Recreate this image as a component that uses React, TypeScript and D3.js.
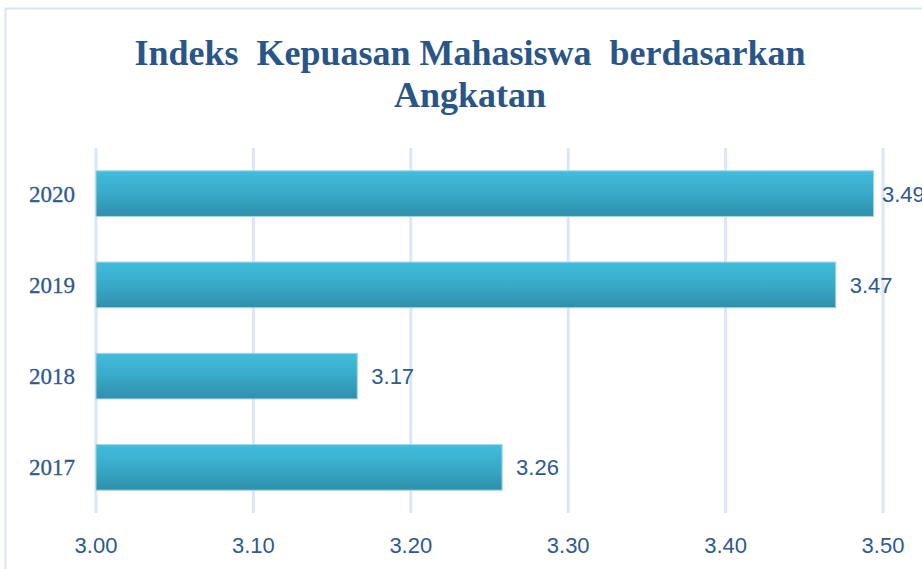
import React from "react";
import * as d3 from "d3";

const categories = ["2020", "2019", "2018", "2017"];
const values = [3.494, 3.47, 3.166, 3.258];
const xTicks = [3.0, 3.1, 3.2, 3.3, 3.4, 3.5];
const titleLines = ["Indeks  Kepuasan Mahasiswa  berdasarkan", "Angkatan"];

const W = 922;
const H = 569;

export default function App() {
  const x = d3.scaleLinear().domain([3.0, 3.5]).range([96, 883]);
  const y = d3.scaleBand().domain(categories).range([148, 513]).paddingInner(0.5).paddingOuter(0.25);
  const textColor = "#2f5a8d";
  return (
    <svg width={W} height={H} style={{ position: "absolute", left: 0, top: 0, background: "#fff" }}>
      <defs>
        <linearGradient id="barGrad" x1="0" y1="0" x2="0" y2="1">
          <stop offset="0" stopColor="#42bddd" />
          <stop offset="0.5" stopColor="#39a9c8" />
          <stop offset="1" stopColor="#2f8fab" />
        </linearGradient>
      </defs>
      <rect x={5.5} y={8.5} width={1000} height={1000} fill="#fff" stroke="#d9e5f4" strokeWidth={2} />
      {titleLines.map((t, i) => (
        <text key={i} x={470} y={65 + i * 42} textAnchor="middle" fontFamily="'Liberation Serif', 'DejaVu Serif', serif" fontWeight="bold" fontSize={36} fill="#2a5687" style={{ whiteSpace: "pre" }}>
          {t}
        </text>
      ))}
      {xTicks.map((t) => (
        <line key={t} x1={x(t)} x2={x(t)} y1={148} y2={513} stroke="#dce6f4" strokeWidth={3} />
      ))}
      {categories.map((c, i) => (
        <g key={c}>
          <rect x={x(3.0)} y={y(c)!} width={x(values[i]) - x(3.0)} height={y.bandwidth()} fill="url(#barGrad)" stroke="#9fd6e6" strokeWidth={1} />
          <text x={Math.min(x(values[i]) + 14, 882)} y={y(c)! + y.bandwidth() / 2 + 8} fontFamily="'Liberation Sans', Arial, sans-serif" fontSize={22} fill={textColor}>
            {values[i].toFixed(2)}
          </text>
          <text x={75} y={y(c)! + y.bandwidth() / 2 + 8} textAnchor="end" fontFamily="'Liberation Serif', serif" fontSize={23} fill={textColor} stroke={textColor} strokeWidth={0.3}>
            {c}
          </text>
        </g>
      ))}
      {xTicks.map((t) => (
        <text key={t} x={x(t)} y={553} textAnchor="middle" fontFamily="'Liberation Sans', Arial, sans-serif" fontSize={22} fill={textColor}>
          {t.toFixed(2)}
        </text>
      ))}
    </svg>
  );
}
